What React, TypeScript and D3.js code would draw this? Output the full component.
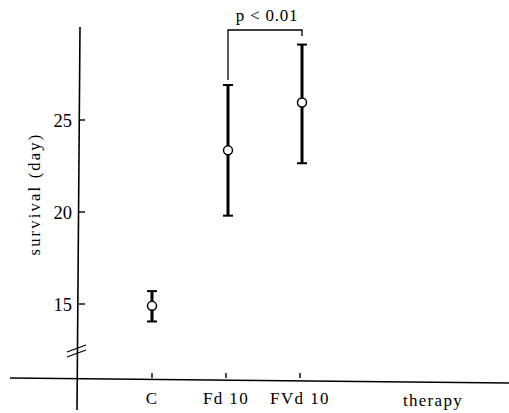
import React from "react";
import * as d3 from "d3";

const categories = ["C", "Fd 10", "FVd 10"];
const means = [14.9, 23.35, 25.95];
const upper = [15.7, 26.9, 29.1];
const lower = [14.05, 19.8, 22.65];
const yTicks = [15, 20, 25];
const yLabel = "survival (day)";
const xLabel = "therapy";
const sigText = "p < 0.01";

export default function App() {
  const W = 509, H = 413;
  const y = d3.scaleLinear().domain([10, 30]).range([396, 28]);
  const x = d3.scalePoint<string>().domain(categories).range([152, 300]);
  const axisX = 79;
  const axisY = 378;
  const font = "Liberation Serif";
  const fd = x("Fd 10")! + 2;
  const fv = x("FVd 10")! + 2;
  const bracketY = 30;
  const ts = { fontFamily: font };
  return (
    <svg width={W} height={H} style={{ position: "absolute", left: 0, top: 0, background: "#fff" }}>
      <rect width={W} height={H} fill="#fff" />
      {/* y axis */}
      <line x1={axisX + 1} x2={axisX - 2} y1={27} y2={410} stroke="#000" strokeWidth={1.6} />
      {yTicks.map((t) => (
        <g key={t}>
          <line x1={axisX} x2={axisX + 6} y1={y(t)} y2={y(t)} stroke="#000" strokeWidth={1.4} />
          <text x={72} y={y(t) + 6.5} textAnchor="end" style={ts} fontSize={18.5}>
            {t}
          </text>
        </g>
      ))}
      {/* axis break */}
      <line x1={67} x2={86} y1={352} y2={345} stroke="#000" strokeWidth={1.3} />
      <line x1={67} x2={86} y1={357} y2={350} stroke="#000" strokeWidth={1.3} />
      <text
        transform={`translate(40,194) rotate(-90)`}
        textAnchor="middle"
        style={ts}
        fontSize={16.5}
        letterSpacing={2.2}
      >
        {yLabel}
      </text>
      {/* x axis */}
      <line x1={10} x2={509} y1={axisY} y2={axisY + 5} stroke="#000" strokeWidth={1.6} />
      {categories.map((c) => (
        <g key={c}>
          <line x1={x(c)!} x2={x(c)!} y1={axisY - 5} y2={axisY} stroke="#000" strokeWidth={1.4} />
          <text x={x(c)!} y={404} textAnchor="middle" style={ts} fontSize={17} letterSpacing={1.4}>
            {c}
          </text>
        </g>
      ))}
      <text x={433} y={406} textAnchor="middle" style={ts} fontSize={17} letterSpacing={1.3}>
        {xLabel}
      </text>
      {/* error bars */}
      {categories.map((c, i) => {
        const cx = x(c)! + (i === 0 ? 0 : 2);
        return (
          <g key={c}>
            <line x1={cx} x2={cx} y1={y(upper[i])} y2={y(lower[i])} stroke="#000" strokeWidth={3} />
            <line x1={cx - 5} x2={cx + 5} y1={y(upper[i])} y2={y(upper[i])} stroke="#000" strokeWidth={2} />
            <line x1={cx - 5} x2={cx + 5} y1={y(lower[i])} y2={y(lower[i])} stroke="#000" strokeWidth={2} />
            <circle cx={cx} cy={y(means[i])} r={4.5} fill="#fff" stroke="#000" strokeWidth={1.5} />
          </g>
        );
      })}
      {/* significance bracket */}
      <polyline
        points={`${fd},${y(upper[1]) - 5} ${fd},${bracketY} ${fv},${bracketY} ${fv},${bracketY + 6}`}
        fill="none"
        stroke="#000"
        strokeWidth={1.3}
      />
      <text x={(fd + fv) / 2 + 2} y={21} textAnchor="middle" style={ts} fontSize={17} letterSpacing={0.8}>
        {sigText}
      </text>
    </svg>
  );
}
